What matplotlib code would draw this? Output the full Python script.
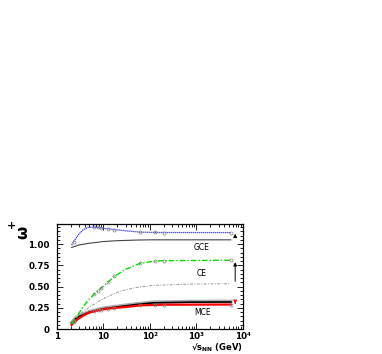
import numpy as np
import matplotlib
matplotlib.use("Agg")
import matplotlib.pyplot as plt
from matplotlib.ticker import FixedLocator, NullFormatter, MultipleLocator

# data
x_data = [2.07, 2.3, 3.0, 3.7, 4.7, 6.3, 7.6, 8.8, 12.3, 17.3, 29, 62.4, 130, 200, 5500]
mark_idx = [1, 5, 6, 7, 8, 9, 11, 12, 13, 14]
gce_data = [0.99, 1.03, 1.12, 1.17, 1.197, 1.198, 1.195, 1.19, 1.18, 1.17, 1.157, 1.14, 1.137, 1.136, 1.135]
ce_data = [0.06, 0.10, 0.19, 0.27, 0.34, 0.41, 0.45, 0.48, 0.55, 0.62, 0.70, 0.775, 0.80, 0.805, 0.81]
mce_data = [0.05, 0.08, 0.13, 0.16, 0.19, 0.21, 0.22, 0.23, 0.24, 0.25, 0.26, 0.28, 0.285, 0.288, 0.29]

x_gce = [2.07, 3, 5, 10, 20, 50, 100, 5500]
gce_model = [0.96, 0.99, 1.01, 1.03, 1.04, 1.047, 1.05, 1.05]
x_ce = [2.07, 3, 5, 10, 22, 50, 118, 725, 5500]
ce_model = [0.07, 0.17, 0.26, 0.36, 0.445, 0.49, 0.515, 0.53, 0.535]
x_mce = [2.07, 2.5, 3, 5, 10, 22, 50, 118, 725, 5500]
mce_model = [0.07, 0.12, 0.15, 0.20, 0.24, 0.265, 0.29, 0.31, 0.318, 0.32]

arrow_x = 6800
arrows = [(1.04, 1.155, 'black'), (0.53, 0.82, 'black'), (0.345, 0.265, 'red')]
labels = [("GCE", 1320, 0.965), ("CE", 1320, 0.66), ("MCE", 1380, 0.20)]
xtick_labels = ['1', '10', '10²', '10³', '10⁴']

fig = plt.figure(figsize=(3.82, 3.54), dpi=100)
ax = fig.add_axes([0.149, 0.07, 0.487, 0.297])

ax.plot(x_mce, np.array(mce_model) + 0.008, color='#b0b0b0', lw=2.5)
ax.plot(x_mce, mce_model, color='black', lw=1.2)
ax.plot(x_data, mce_data, color='red', lw=1.6, marker='o', ms=2.2, mfc='none',
        mec='gray', mew=0.5, markevery=mark_idx)
ax.plot(x_ce, ce_model, color='#999999', lw=0.7, ls=(0, (3, 1.5, 1, 1.5)))
ax.plot(x_data, ce_data, color='#00dd00', lw=1.0, ls=(0, (4, 1.5, 1, 1.5)), marker='o', ms=2.2,
        mfc='none', mec='gray', mew=0.5, markevery=mark_idx)
ax.plot(x_gce, gce_model, color='#444444', lw=0.8)
ax.plot(x_data, gce_data, color='#3030ee', lw=0.9, ls=(0, (1, 0.6)), marker='o', ms=2.2,
        mfc='none', mec='gray', mew=0.5, markevery=mark_idx)

for y0, y1, c in arrows:
    ax.annotate('', xy=(arrow_x, y1), xytext=(arrow_x, y0),
                arrowprops=dict(arrowstyle='-|>', color=c, lw=0.7, mutation_scale=5))

for t, x, y in labels:
    ax.text(x, y, t, fontsize=5.5, ha='center', va='center')

ax.set_xscale('log')
ax.set_xlim(1, 1e4)
ax.set_ylim(0, 1.235)
ax.xaxis.set_major_locator(FixedLocator([1, 10, 100, 1000, 10000]))
ax.set_xticklabels(xtick_labels)
minors = [m * 10 ** d for d in range(4) for m in range(2, 10)]
ax.xaxis.set_minor_locator(FixedLocator(minors))
ax.xaxis.set_minor_formatter(NullFormatter())
ax.set_yticks([0, 0.25, 0.5, 0.75, 1.0])
ax.set_yticklabels(['0', '0.25', '0.50', '0.75', '1.00'])
ax.yaxis.set_minor_locator(MultipleLocator(0.05))
ax.tick_params(which='both', direction='in', top=True, right=True, labelsize=6.3, width=0.6)
ax.tick_params(axis='x', labelsize=6.3)
ax.tick_params(axis='y', pad=5)
ax.tick_params(axis='x', pad=2)
ax.tick_params(which='major', length=4)
ax.tick_params(which='minor', length=2)
for lab in ax.get_xticklabels() + ax.get_yticklabels():
    lab.set_fontweight('bold')
for s in ax.spines.values():
    s.set_linewidth(0.9)

fig.text(0.636, 1 - 348 / 354, '√' + r'$\mathbf{s_{NN}}$' + ' (GeV)', fontsize=6,
         fontweight='bold', ha='right', va='center')
fig.text(23 / 382, 1 - 232 / 354, 'ω', fontsize=11, fontweight='bold', rotation=90, ha='center', va='center')
fig.text(11 / 382, 1 - 226 / 354, '+', fontsize=8, fontweight='bold', ha='center', va='center')

fig.savefig('out.png', dpi=100)
